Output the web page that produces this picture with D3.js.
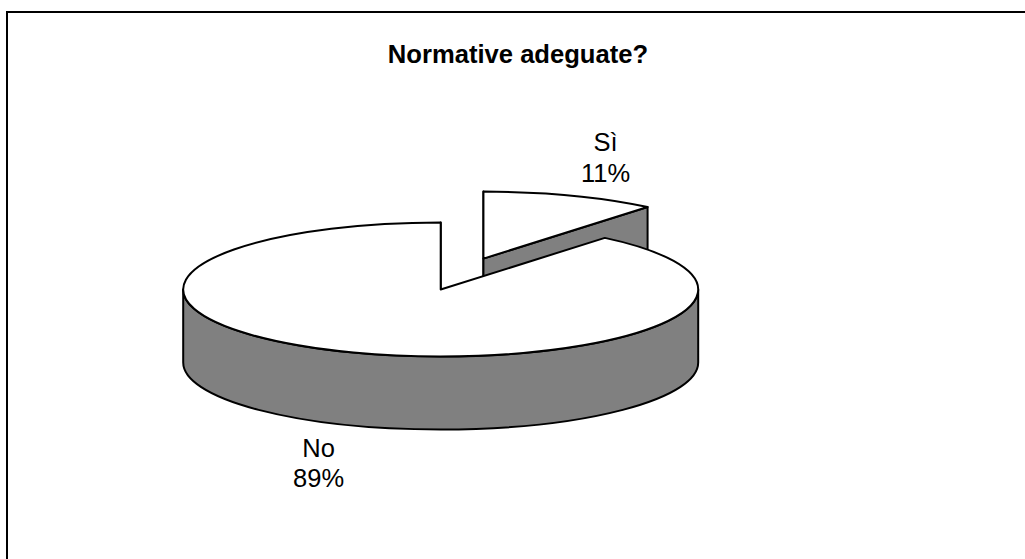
<!DOCTYPE html>
<html><head><meta charset="utf-8">
<script src="https://cdn.jsdelivr.net/npm/d3@7"></script>
<style>html,body{margin:0;padding:0;background:#fff;overflow:hidden}</style>
</head><body>
<svg id="c" width="1025" height="559"></svg>
<script>
const categories = ["Sì", "No"];
const values = [11, 89];
const percentLabels = ["11%", "89%"];
const titleText = "Normative adeguate?";

const svg = d3.select("#c");
const cx = 440.7, cy = 289.5, rx = 257.5, ry = 67, depth = 73;
const explodeCat = "Sì", explodeK = 0.49;
const topFill = "#ffffff", sideFill = "#808080", strokeCol = "#000", sw = 2;

svg.append("rect").attr("x", 7).attr("y", 12).attr("width", 1100).attr("height", 700)
  .attr("fill", "#fff").attr("stroke", "#000").attr("stroke-width", 2);

svg.append("text").attr("x", 518).attr("y", 63).attr("text-anchor", "middle")
  .attr("font-family", "'Liberation Sans', Arial, sans-serif").attr("font-weight", "bold")
  .attr("font-size", 25.6).attr("fill", "#000").text(titleText);

const data = categories.map((c, i) => ({cat: c, value: values[i], label: percentLabels[i]}));
const pie = d3.pie().sort(null).value(d => d.value);
const arcs = pie(data);

arcs.forEach(a => {
  const mid = (a.startAngle + a.endAngle) / 2;
  const k = a.data.cat === explodeCat ? explodeK : 0;
  a.cx = cx + k * rx * Math.sin(mid);
  a.cy = cy - k * ry * Math.cos(mid);
  a.mid = mid;
});

const P = (a, ang, dz = 0) => [a.cx + rx * Math.sin(ang), a.cy - ry * Math.cos(ang) + dz];
const f = p => p[0].toFixed(2) + "," + p[1].toFixed(2);

function topPath(a) {
  const large = (a.endAngle - a.startAngle) > Math.PI ? 1 : 0;
  return "M" + f([a.cx, a.cy]) + "L" + f(P(a, a.startAngle)) +
    "A" + rx + "," + ry + " 0 " + large + " 1 " + f(P(a, a.endAngle)) + "Z";
}
function wallPath(a, a0, a1) {
  return "M" + f(P(a, a0)) + "A" + rx + "," + ry + " 0 0 1 " + f(P(a, a1)) +
    "L" + f(P(a, a1, depth)) + "A" + rx + "," + ry + " 0 0 0 " + f(P(a, a0, depth)) + "Z";
}
function cutPath(a, ang) {
  return "M" + f([a.cx, a.cy]) + "L" + f(P(a, ang)) + "L" + f(P(a, ang, depth)) +
    "L" + f([a.cx, a.cy + depth]) + "Z";
}

const order = arcs.slice().sort((p, q) => p.cy - q.cy);
const g = svg.append("g");
order.forEach(a => {
  const sg = g.append("g");
  if (Math.sin(a.startAngle) <= 1e-9)
    sg.append("path").attr("d", cutPath(a, a.startAngle));
  if (Math.sin(a.endAngle) >= -1e-9)
    sg.append("path").attr("d", cutPath(a, a.endAngle));
  const a0 = Math.max(a.startAngle, Math.PI / 2), a1 = Math.min(a.endAngle, 3 * Math.PI / 2);
  if (a1 > a0) sg.append("path").attr("d", wallPath(a, a0, a1));
  sg.selectAll("path").attr("fill", sideFill);
  sg.append("path").attr("d", topPath(a)).attr("fill", topFill);
  sg.selectAll("path").attr("stroke", strokeCol).attr("stroke-width", sw).attr("stroke-linejoin", "round");
});

const fx = 1.40, fy = 1.60;
arcs.forEach(a => {
  const front = Math.cos(a.mid) < 0;
  const lx = a.cx + fx * rx * Math.sin(a.mid);
  const ly = a.cy - fy * ry * Math.cos(a.mid) + (front ? depth : 0);
  const t = svg.append("text").attr("text-anchor", "middle")
    .attr("font-family", "'Liberation Sans', Arial, sans-serif").attr("font-size", 25.5).attr("fill", "#000");
  t.append("tspan").attr("x", lx).attr("y", ly - 6.5).text(a.data.cat);
  t.append("tspan").attr("x", lx).attr("y", ly + 24).text(a.data.label);
});
</script>
</body></html>
